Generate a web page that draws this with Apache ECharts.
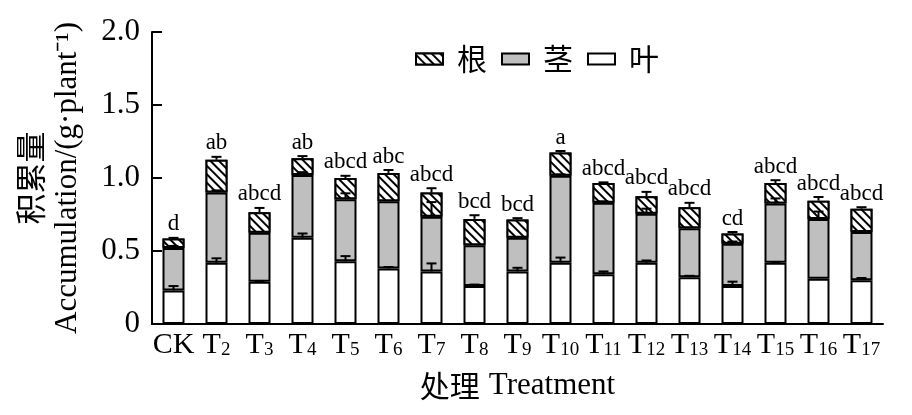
<!DOCTYPE html>
<html>
<head>
<meta charset="utf-8">
<script src="https://cdn.jsdelivr.net/npm/echarts@6/dist/echarts.min.js"></script>
<style>
  html, body { margin: 0; padding: 0; background: #fff; }
  #chart { width: 912px; height: 415px; }
</style>
</head>
<body>
<div id="chart"></div>
<script>
// 处理
const categories = ['CK', 'T2', 'T3', 'T4', 'T5', 'T6', 'T7', 'T8', 'T9', 'T10', 'T11', 'T12', 'T13', 'T14', 'T15', 'T16', 'T17'];
// 叶 / 茎 / 根 (g·plant-1)
const leaf = [0.23, 0.42, 0.29, 0.59, 0.43, 0.38, 0.36, 0.26, 0.36, 0.42, 0.34, 0.42, 0.32, 0.26, 0.42, 0.31, 0.30];
const stem = [0.29, 0.48, 0.335, 0.43, 0.425, 0.46, 0.375, 0.28, 0.23, 0.595, 0.49, 0.335, 0.335, 0.29, 0.405, 0.41, 0.33];
const root = [0.065, 0.225, 0.14, 0.115, 0.145, 0.195, 0.165, 0.18, 0.125, 0.16, 0.135, 0.12, 0.145, 0.07, 0.14, 0.125, 0.16];
const leafErr = [0.03, 0.03, 0.005, 0.03, 0.035, 0.01, 0.055, 0.01, 0.025, 0.035, 0.02, 0.015, 0.01, 0.03, 0.005, 0, 0.015];
const stemErr = [0.015, 0.015, 0, 0.02, 0.04, 0, 0.10, 0, 0, 0.01, 0.01, 0.035, 0, 0.015, 0.035, 0.05, 0];
const rootErr = [0.005, 0.02, 0.03, 0.015, 0.015, 0.02, 0.03, 0.025, 0.01, 0.01, 0.005, 0.03, 0.03, 0.01, 0.02, 0.025, 0.01];
const letters = ['d', 'ab', 'abcd', 'ab', 'abcd', 'abc', 'abcd', 'bcd', 'bcd', 'a', 'abcd', 'abcd', 'abcd', 'cd', 'abcd', 'abcd', 'abcd'];

const serif = '"Liberation Serif", "Times New Roman", serif';
const cjk = '"Noto Sans CJK SC", sans-serif';

// error bar rows: [index, segment top, top + err]
let errData = [];
let topData = [];
categories.forEach((c, i) => {
  let t1 = leaf[i], t2 = t1 + stem[i], t3 = t2 + root[i];
  errData.push([i, t1, t1 + leafErr[i]]);
  errData.push([i, t2, t2 + stemErr[i]]);
  errData.push([i, t3, t3 + rootErr[i]]);
  topData.push([i, t3 + rootErr[i]]);
});

let myChart = echarts.init(document.getElementById('chart'));

const barBase = {
  type: 'bar',
  stack: 'total',
  barWidth: 22,
  animation: false
};

myChart.setOption({
  animation: false,
  grid: { left: 152, right: 29, top: 32, bottom: 91 },
  legend: {
    data: ['根', '茎', '叶'],
    left: 410,
    top: 39,
    icon: 'rect',
    itemWidth: 27,
    itemHeight: 11,
    itemGap: 14,
    textStyle: { fontFamily: cjk, fontSize: 30, color: '#000', padding: [0, 0, 0, 9] }
  },
  xAxis: {
    type: 'category',
    data: categories,
    name: '{cn|处理}{en|Treatment}',
    nameLocation: 'middle',
    nameGap: 46,
    nameTextStyle: {
      rich: {
        cn: { fontFamily: cjk, fontSize: 30, color: '#000', padding: [0, 9, 0, 0] },
        en: { fontFamily: serif, fontSize: 31, color: '#000' }
      }
    },
    axisLine: { lineStyle: { color: '#000', width: 2 } },
    axisTick: { show: false },
    axisLabel: {
      margin: 6,
      interval: 0,
      formatter: v => v === 'CK' ? '{m|CK}' : '{m|T}{s|' + v.slice(1) + '}',
      rich: {
        m: { fontFamily: serif, fontSize: 30, color: '#000' },
        s: { fontFamily: serif, fontSize: 19, color: '#000', verticalAlign: 'bottom' }
      }
    }
  },
  yAxis: {
    type: 'value',
    min: 0,
    max: 2,
    interval: 0.5,
    name: '{cn|积累量}\n{en|Accumulation/(g·plant⁻¹)}',
    nameLocation: 'middle',
    nameGap: 66,
    nameRotate: 90,
    nameTextStyle: {
      rich: {
        cn: { fontFamily: cjk, fontSize: 31, color: '#000', lineHeight: 37 },
        en: { fontFamily: serif, fontSize: 31, color: '#000', lineHeight: 37 }
      }
    },
    splitLine: { show: false },
    axisLine: { show: true, lineStyle: { color: '#000', width: 2 } },
    axisTick: { show: true, inside: true, length: 10, lineStyle: { color: '#000', width: 2 } },
    axisLabel: {
      margin: 12,
      fontFamily: serif,
      fontSize: 31,
      color: '#000',
      formatter: v => v === 0 ? '0' : v.toFixed(1)
    }
  },
  series: [
    Object.assign({}, barBase, {
      name: '叶',
      data: leaf,
      itemStyle: { color: '#fff', borderColor: '#000', borderWidth: 2 }
    }),
    Object.assign({}, barBase, {
      name: '茎',
      data: stem,
      itemStyle: { color: '#bfbfbf', borderColor: '#000', borderWidth: 2 }
    }),
    Object.assign({}, barBase, {
      name: '根',
      data: root,
      itemStyle: {
        color: '#fff',
        borderColor: '#000',
        borderWidth: 2,
        decal: {
          symbol: 'rect',
          symbolSize: 1,
          dashArrayX: [1, 0],
          dashArrayY: [2, 4],
          rotation: Math.PI / 4,
          color: '#000',
          backgroundColor: '#fff'
        }
      }
    }),
    {
      type: 'custom',
      name: 'err',
      data: errData,
      encode: { x: 0, y: [1, 2] },
      z: 5,
      renderItem: function (params, api) {
        let x = api.value(0);
        let p0 = api.coord([x, api.value(1)]);
        let p1 = api.coord([x, api.value(2)]);
        if (p0[1] - p1[1] < 0.5) {
          return { type: 'group', children: [] };
        }
        return {
          type: 'group',
          children: [
            { type: 'line', shape: { x1: p0[0], y1: p0[1], x2: p1[0], y2: p1[1] }, style: { stroke: '#000', lineWidth: 2 } },
            { type: 'line', shape: { x1: p1[0] - 5, y1: p1[1], x2: p1[0] + 5, y2: p1[1] }, style: { stroke: '#000', lineWidth: 2 } }
          ]
        };
      }
    },
    {
      type: 'custom',
      name: 'letters',
      data: topData,
      encode: { x: 0, y: 1 },
      z: 6,
      renderItem: function (params, api) {
        let p = api.coord([api.value(0), api.value(1)]);
        return {
          type: 'text',
          x: p[0],
          y: p[1] - 2,
          style: {
            text: letters[params.dataIndex],
            align: 'center',
            verticalAlign: 'bottom',
            font: '23px ' + serif,
            fill: '#000'
          }
        };
      }
    }
  ]
});
</script>
</body>
</html>
